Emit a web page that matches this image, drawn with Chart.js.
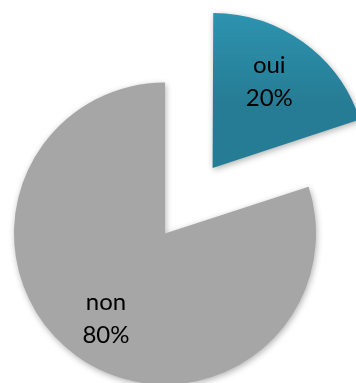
<!DOCTYPE html>
<html>
<head>
<meta charset="utf-8">
<script src="https://cdn.jsdelivr.net/npm/chart.js"></script>
<style>
    html, body { margin: 0; padding: 0; background: #fff; }
    #wrap { width: 356px; height: 383px; }
</style>
</head>
<body>
<div id="wrap"><canvas id="pie-chart"></canvas></div>
<script>
// Données
const labels = ['oui', 'non'];
const values = [20, 80];
const pcts = ['20%', '80%'];

// Dégradé pour la part "oui"
function fillColor(ctx) {
    if (ctx.dataIndex === 1) return '#a6a6a6';
    const c = ctx.chart.ctx;
    const g = c.createLinearGradient(0, 15, 0, 170);
    g.addColorStop(0, '#32a3c2');
    g.addColorStop(1, '#267c94');
    return g;
}

// Ombre douce autour des parts
const shadow = {
    id: 'shadow',
    beforeDatasetsDraw(chart) {
        const c = chart.ctx;
        c.save();
        c.shadowColor = 'rgba(0,0,0,0.3)';
        c.shadowBlur = 6;
        c.shadowOffsetX = 1;
        c.shadowOffsetY = 2;
    },
    afterDatasetsDraw(chart) {
        chart.ctx.restore();
    }
};

// Étiquettes dans les parts
const sliceLabels = {
    id: 'sliceLabels',
    afterDraw(chart) {
        const c = chart.ctx;
        const meta = chart.getDatasetMeta(0);
        c.save();
        c.font = '24px Lato';
        c.fillStyle = '#000';
        c.textAlign = 'center';
        c.textBaseline = 'middle';
        meta.data.forEach((arc, i) => {
            const mid = (arc.startAngle + arc.endAngle) / 2;
            const off = (arc.options.offset || 0) / 4;
            const r = arc.outerRadius * 0.7 + off;
            const x = arc.x + Math.cos(mid) * r * 0.95;
            const y = arc.y + Math.sin(mid) * r;
            c.fillText(labels[i], x, y - 17);
            c.fillText(pcts[i], x, y + 16);
        });
        c.restore();
    }
};

const config = {
    type: 'pie',
    data: {
        labels: labels,
        datasets: [{
            data: values,
            backgroundColor: fillColor,
            borderWidth: 0,
            offset: [324, 0],
            clip: false
        }]
    },
    options: {
        responsive: true,
        maintainAspectRatio: false,
        animation: false,
        radius: 151,
        cutout: '0%', // évite NaN quand l'offset dépasse la zone
        layout: { padding: { left: 0, right: 26, top: 84, bottom: 0 } },
        plugins: {
            legend: { display: false },
            tooltip: { enabled: false }
        }
    },
    plugins: [shadow, sliceLabels]
};

const pieChart = new Chart(document.getElementById('pie-chart'), config);
</script>
</body>
</html>
